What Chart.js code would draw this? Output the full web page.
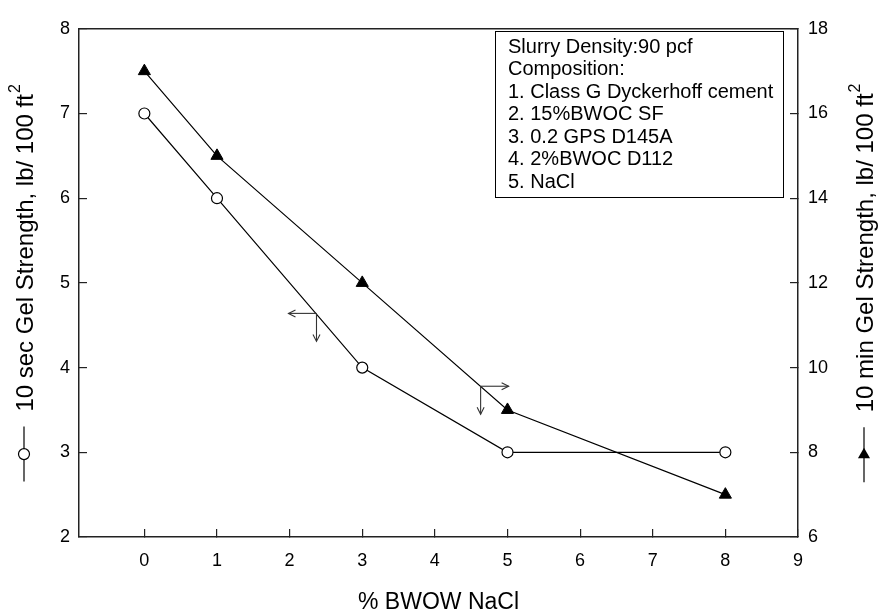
<!DOCTYPE html>
<html><head><meta charset="utf-8">
<script src="https://cdn.jsdelivr.net/npm/chart.js@4/dist/chart.umd.min.js"></script>
<style>html,body{margin:0;padding:0;background:#fff}#wrap{width:882px;height:615px}</style>
</head><body><div id="wrap"><canvas id="c" width="882" height="615"></canvas></div>
<script>
const nacl = [0, 1, 3, 5, 8];
const gel10s = [7, 6, 4, 3, 3];
const gel10m = [17, 15, 12, 9, 7];
const xTicks = [0, 1, 2, 3, 4, 5, 6, 7, 8, 9];
const leftTicks = [2, 3, 4, 5, 6, 7, 8];
const rightTicks = [6, 8, 10, 12, 14, 16, 18];
const noteLines = ['Slurry Density:90 pcf', 'Composition:', '1. Class G Dyckerhoff cement', '2. 15%BWOC SF', '3. 0.2 GPS D145A', '4. 2%BWOC D112', '5. NaCl'];
const arrowAnchorX = [2.37, 4.63];
const arrowAnchorY = [4.64, 3.78];
const arrowSide = ['left', 'right'];
const xTitle = '% BWOW NaCl';
const leftTitle = '10 sec Gel Strength, lb/ 100 ft';
const rightTitle = '10 min Gel Strength, lb/ 100 ft';

const FONT = '"Liberation Sans", Arial, sans-serif';
const INK = '#000';
const AX = '#222';

function tickSetter(arr) { return s => { s.ticks = arr.map(v => ({ value: v })); }; }

function arrowHead(ctx, x, y, dx, dy) {
  const L = 7, W = 3.5;
  const bx = x - dx * L, by = y - dy * L;
  ctx.beginPath();
  ctx.moveTo(bx + dy * W, by - dx * W);
  ctx.lineTo(x, y);
  ctx.lineTo(bx - dy * W, by + dx * W);
  ctx.stroke();
}

function drawMarker(ctx, kind, x, y) {
  ctx.save();
  ctx.lineWidth = 1.2; ctx.strokeStyle = INK;
  if (kind === 'circle') {
    ctx.fillStyle = '#fff';
    ctx.beginPath(); ctx.arc(x, y, 5.5, 0, Math.PI * 2); ctx.fill(); ctx.stroke();
  } else {
    ctx.fillStyle = INK;
    const r = 7;
    ctx.beginPath();
    ctx.moveTo(x, y - r);
    ctx.lineTo(x + r * 0.866, y + r * 0.5);
    ctx.lineTo(x - r * 0.866, y + r * 0.5);
    ctx.closePath(); ctx.fill();
  }
  ctx.restore();
}

function drawAxisTitle(ctx, cx, cy, text, marker) {
  const font = '24px ' + FONT;
  const supFont = '16px ' + FONT;
  ctx.save();
  ctx.font = font; const w1 = ctx.measureText(text).width;
  ctx.font = supFont; const w2 = ctx.measureText('2').width;
  const lineLen = 55, gap = 15;
  const total = lineLen + gap + w1 + w2 + 1;
  const start = cy + total / 2;
  ctx.strokeStyle = INK; ctx.lineWidth = 1.2;
  ctx.beginPath(); ctx.moveTo(cx, start); ctx.lineTo(cx, start - lineLen); ctx.stroke();
  drawMarker(ctx, marker, cx, start - lineLen / 2);
  ctx.translate(cx + 2, start - lineLen - gap);
  ctx.rotate(-Math.PI / 2);
  ctx.fillStyle = INK;
  ctx.textBaseline = 'middle'; ctx.textAlign = 'left';
  ctx.font = font; ctx.fillText(text, 0, 0);
  ctx.font = supFont; ctx.fillText('2', w1 + 1, -10);
  ctx.restore();
}

const decor = {
  id: 'decor',
  afterDraw(chart) {
    const ctx = chart.ctx;
    const a = chart.chartArea;
    const xs = chart.scales.x, ys = chart.scales.y;
    ctx.save();
    ctx.strokeStyle = AX; ctx.lineWidth = 1.5;
    ctx.beginPath(); ctx.moveTo(a.left, a.top); ctx.lineTo(a.right, a.top); ctx.stroke();

    ctx.strokeStyle = '#333'; ctx.lineWidth = 1.1;
    for (let i = 0; i < arrowAnchorX.length; i++) {
      const px = xs.getPixelForValue(arrowAnchorX[i]);
      const py = ys.getPixelForValue(arrowAnchorY[i]);
      const d = arrowSide[i] === 'left' ? -1 : 1;
      const hx = px + d * 28;
      ctx.beginPath(); ctx.moveTo(px, py); ctx.lineTo(hx, py); ctx.stroke();
      arrowHead(ctx, hx, py, d, 0);
      const vy = py + 28;
      ctx.beginPath(); ctx.moveTo(px, py); ctx.lineTo(px, vy); ctx.stroke();
      arrowHead(ctx, px, vy, 0, 1);
    }

    const bx = 495, by = 31, bw = 288, bh = 166;
    ctx.fillStyle = '#fff';
    ctx.fillRect(bx, by, bw, bh);
    ctx.strokeStyle = INK; ctx.lineWidth = 1;
    ctx.strokeRect(bx + 0.5, by + 0.5, bw, bh);
    ctx.fillStyle = INK; ctx.font = '20px ' + FONT;
    ctx.textBaseline = 'middle'; ctx.textAlign = 'left';
    noteLines.forEach((t, i) => ctx.fillText(t, bx + 13, by + 16 + i * 22.5));

    const cy = (a.top + a.bottom) / 2;
    drawAxisTitle(ctx, 24, cy, leftTitle, 'circle');
    drawAxisTitle(ctx, 864, cy, rightTitle, 'triangle');

    ctx.fillStyle = INK; ctx.font = '23px ' + FONT;
    ctx.textAlign = 'center'; ctx.textBaseline = 'middle';
    ctx.fillText(xTitle, (a.left + a.right) / 2, 603);
    ctx.restore();
  }
};

const tickFont = { family: FONT, size: 18 };

new Chart(document.getElementById('c'), {
  type: 'line',
  data: {
    datasets: [
      {
        label: '10 sec', yAxisID: 'y',
        data: nacl.map((x, i) => ({ x, y: gel10s[i] })),
        borderColor: INK, borderWidth: 1.2, tension: 0,
        pointStyle: 'circle', pointRadius: 5.5, pointBackgroundColor: '#fff',
        pointBorderColor: INK, pointBorderWidth: 1.2
      },
      {
        label: '10 min', yAxisID: 'y1',
        data: nacl.map((x, i) => ({ x, y: gel10m[i] })),
        borderColor: INK, borderWidth: 1.2, tension: 0,
        pointStyle: 'triangle', pointRadius: 7, pointBackgroundColor: INK,
        pointBorderColor: INK, pointBorderWidth: 1
      }
    ]
  },
  options: {
    responsive: false, animation: false,
    layout: { padding: { top: 20, left: 0, right: 0, bottom: 0 } },
    plugins: { legend: { display: false }, tooltip: { enabled: false } },
    scales: {
      x: {
        type: 'linear', position: 'bottom', min: -0.9, max: 9,
        afterBuildTicks: tickSetter(xTicks),
        afterFit: s => { s.height = 78; },
        grid: { drawOnChartArea: false, tickLength: -8, color: AX, lineWidth: 1.2 },
        border: { color: AX, width: 1.5 },
        ticks: { padding: 21, color: INK, font: tickFont, maxRotation: 0 }
      },
      y: {
        type: 'linear', position: 'left', min: 2, max: 8,
        afterBuildTicks: tickSetter(leftTicks),
        afterFit: s => { s.width = 79; },
        grid: { drawOnChartArea: false, tickLength: -8, color: AX, lineWidth: 1.2 },
        border: { color: AX, width: 1.5 },
        ticks: { padding: 17, color: INK, font: tickFont }
      },
      y1: {
        type: 'linear', position: 'right', min: 6, max: 18,
        afterBuildTicks: tickSetter(rightTicks),
        afterFit: s => { s.width = 84; },
        grid: { drawOnChartArea: false, tickLength: -8, color: AX, lineWidth: 1.2 },
        border: { color: AX, width: 1.5 },
        ticks: { padding: 18, color: INK, font: tickFont }
      }
    }
  },
  plugins: [decor]
});
</script>
</body></html>
